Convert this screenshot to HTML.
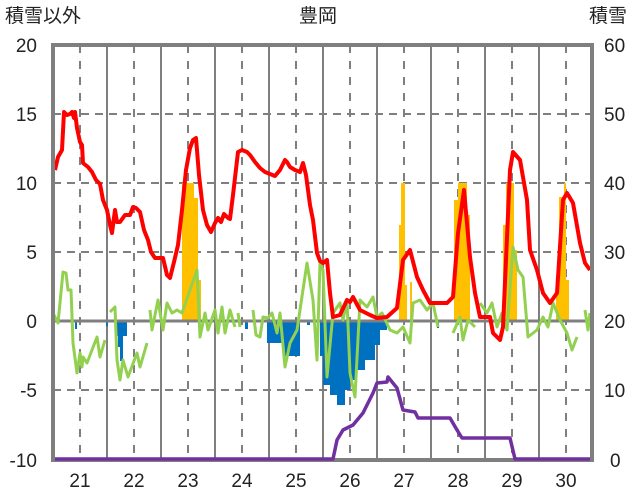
<!DOCTYPE html>
<html><head><meta charset="utf-8"><style>
body{margin:0;background:#fff;}
svg{display:block;font-family:"Liberation Sans","Noto Sans CJK JP",sans-serif;}
</style></head><body>
<svg width="636" height="501" viewBox="0 0 636 501">
<rect width="636" height="501" fill="#fff"/>
<g stroke="#7f7f7f" stroke-width="2" stroke-dasharray="8,6">
<line x1="53" y1="114" x2="592" y2="114"/><line x1="53" y1="183" x2="592" y2="183"/>
<line x1="53" y1="252" x2="592" y2="252"/><line x1="53" y1="390" x2="592" y2="390"/>
</g>
<g stroke="#7f7f7f" stroke-width="2" stroke-dasharray="8,8">
<line x1="80" y1="45" x2="80" y2="460"/><line x1="134" y1="45" x2="134" y2="460"/>
<line x1="188" y1="45" x2="188" y2="460"/><line x1="242" y1="45" x2="242" y2="460"/>
<line x1="296" y1="45" x2="296" y2="460"/><line x1="350" y1="45" x2="350" y2="460"/>
<line x1="404" y1="45" x2="404" y2="460"/><line x1="458" y1="45" x2="458" y2="460"/>
<line x1="512" y1="45" x2="512" y2="460"/><line x1="566" y1="45" x2="566" y2="460"/>
</g>
<g stroke="#7f7f7f" stroke-width="2">
<line x1="107" y1="45" x2="107" y2="460"/><line x1="161" y1="45" x2="161" y2="460"/>
<line x1="215" y1="45" x2="215" y2="460"/><line x1="269" y1="45" x2="269" y2="460"/>
<line x1="323" y1="45" x2="323" y2="460"/><line x1="377" y1="45" x2="377" y2="460"/>
<line x1="431" y1="45" x2="431" y2="460"/><line x1="485" y1="45" x2="485" y2="460"/>
<line x1="539" y1="45" x2="539" y2="460"/>
</g>
<g fill="#ffc000">
<rect x="182" y="183" width="12" height="138"/><rect x="194" y="198" width="4" height="123"/><rect x="198" y="280" width="3" height="41"/>
<rect x="399" y="225" width="2" height="96"/><rect x="401" y="183" width="4" height="138"/><rect x="405" y="285" width="2" height="36"/><rect x="410" y="282" width="2" height="39"/>
<rect x="454" y="200" width="4" height="121"/><rect x="458" y="183" width="9" height="138"/><rect x="467" y="215" width="3" height="106"/>
<rect x="503" y="225" width="3" height="96"/><rect x="506" y="183" width="8" height="138"/><rect x="514" y="250" width="3" height="71"/>
<rect x="556" y="283" width="3" height="38"/><rect x="559" y="197" width="5" height="124"/><rect x="564" y="183" width="2" height="138"/><rect x="566" y="280" width="3" height="41"/>
</g>
<g fill="#0070c0">
<rect x="75" y="321" width="2" height="8"/><rect x="106" y="321" width="2" height="5"/>
<rect x="115" y="321" width="12" height="15"/><rect x="118" y="321" width="4" height="26"/><rect x="120" y="321" width="3" height="40"/>
<rect x="245" y="321" width="3" height="8"/>
<rect x="267" y="321" width="16" height="22"/><rect x="283" y="321" width="17" height="35"/><rect x="307" y="321" width="3" height="4"/>
<rect x="320" y="321" width="3" height="35"/><rect x="323" y="321" width="7" height="64"/><rect x="330" y="321" width="7" height="74"/>
<rect x="337" y="321" width="8" height="84"/><rect x="345" y="321" width="5" height="69"/><rect x="350" y="321" width="5" height="59"/>
<rect x="355" y="321" width="10" height="49"/><rect x="365" y="321" width="10" height="39"/><rect x="375" y="321" width="5" height="24"/>
<rect x="380" y="321" width="7" height="9"/><rect x="437" y="321" width="2" height="7"/>
</g>
<line x1="53" y1="321" x2="592" y2="321" stroke="#7f7f7f" stroke-width="3"/>
<g fill="none" stroke="#92d050" stroke-width="3" stroke-linejoin="round">
<polyline points="53,313 58,323 63,272 66,273 68,290 71,290 73,343 77,373 80,353 82,367 83,357 87,363 97,337 100,357 105,340"/>
<polyline points="110,312 115,307 117,360 120,380 123,360 128,377 137,353 140,367 147,343"/>
<polyline points="150,310 152,330 158,300 163,330 167,303 172,313 177,310 182,313 197,270 200,337 205,313 208,330 215,310 218,333 222,307 225,333 230,310 235,327"/>
<polyline points="238,313 240,327"/>
<polyline points="253,310 256,335 260,337 263,317 268,318 272,313 277,333 280,313 285,367 290,343 297,330 307,263 313,300 317,360 320,263 323,270 327,377 333,313 340,303 343,320 347,300 350,373 355,397 360,300 367,307 373,297 377,317 382,313 390,330 397,333 403,327 410,343 413,303 420,300 427,310 433,303 438,327"/>
<polyline points="453,333 460,317 463,340 468,320 475,327"/>
<polyline points="480,303 487,313 492,303 497,327 502,313 507,330 513,247 518,270 523,277 528,337 537,330 543,317 548,327 553,303 560,320 567,333 572,350 577,337"/>
<polyline points="585,310 588,330 590,313"/>
</g>
<polyline fill="none" stroke="#ff0000" stroke-width="4" stroke-linejoin="round" points="55,170 58,157 62,150 64,112 67,115 70,114 72,112 74,118 75,112 77,128 80,142 82,145 83,163 88,167 92,172 96,180 100,184 103,200 107,210 110,225 112,233 115,210 117,222 120,222 125,215 130,215 133,207 136,208 140,212 144,230 148,240 151,252 155,258 160,258 163,258 167,275 170,278 174,262 178,245 182,210 186,170 190,148 193,140 196,138 199,175 203,210 207,225 211,232 215,223 218,218 221,222 224,214 228,218 230,219 233,195 238,152 242,150 247,152 250,155 255,162 260,168 265,172 270,174 275,176 280,170 285,160 287,162 290,167 295,170 300,172 303,163 306,175 310,205 313,220 317,253 320,261 323,263 327,260 330,293 333,317 340,315 347,300 350,302 353,297 360,310 370,315 377,318 387,317 397,308 403,260 410,250 417,277 423,290 430,303 437,303 447,303 453,297 458,233 464,190 470,257 475,293 480,317 490,317 493,333 500,340 503,327 510,170 513,152 520,160 527,200 530,250 537,270 543,293 550,303 557,293 563,200 567,193 573,203 580,243 585,263 590,270"/>
<rect x="53" y="45" width="539" height="415" fill="none" stroke="#7f7f7f" stroke-width="4"/>
<polyline fill="none" stroke="#7030a0" stroke-width="3.5" stroke-linejoin="round" points="55,459 333,459 337,440 343,430 353,425 363,413 373,393 377,383 387,382 388,377 397,388 403,410 415,412 418,418 450,418 457,430 462,438 510,438 515,459 590,459"/>
<g font-size="19" fill="#222">
<text x="5" y="22">積雪以外</text>
<text x="318" y="22" text-anchor="middle">豊岡</text>
<text x="589" y="22">積雪</text>
</g>
<g font-size="19" fill="#222" text-anchor="end">
<text x="37" y="52">20</text><text x="37" y="121">15</text><text x="37" y="190">10</text>
<text x="37" y="259">5</text><text x="37" y="328">0</text><text x="37" y="397">-5</text><text x="37" y="467">-10</text>
</g>
<g font-size="19" fill="#222" text-anchor="start">
<text x="604" y="52">60</text><text x="604" y="121">50</text><text x="604" y="190">40</text>
<text x="604" y="259">30</text><text x="604" y="328">20</text><text x="604" y="397">10</text><text x="610" y="467">0</text>
</g>
<g font-size="19" fill="#222" text-anchor="middle">
<text x="80" y="487">21</text><text x="134" y="487">22</text><text x="188" y="487">23</text>
<text x="242" y="487">24</text><text x="296" y="487">25</text><text x="350" y="487">26</text>
<text x="404" y="487">27</text><text x="458" y="487">28</text><text x="512" y="487">29</text><text x="566" y="487">30</text>
</g>
</svg>
</body></html>
